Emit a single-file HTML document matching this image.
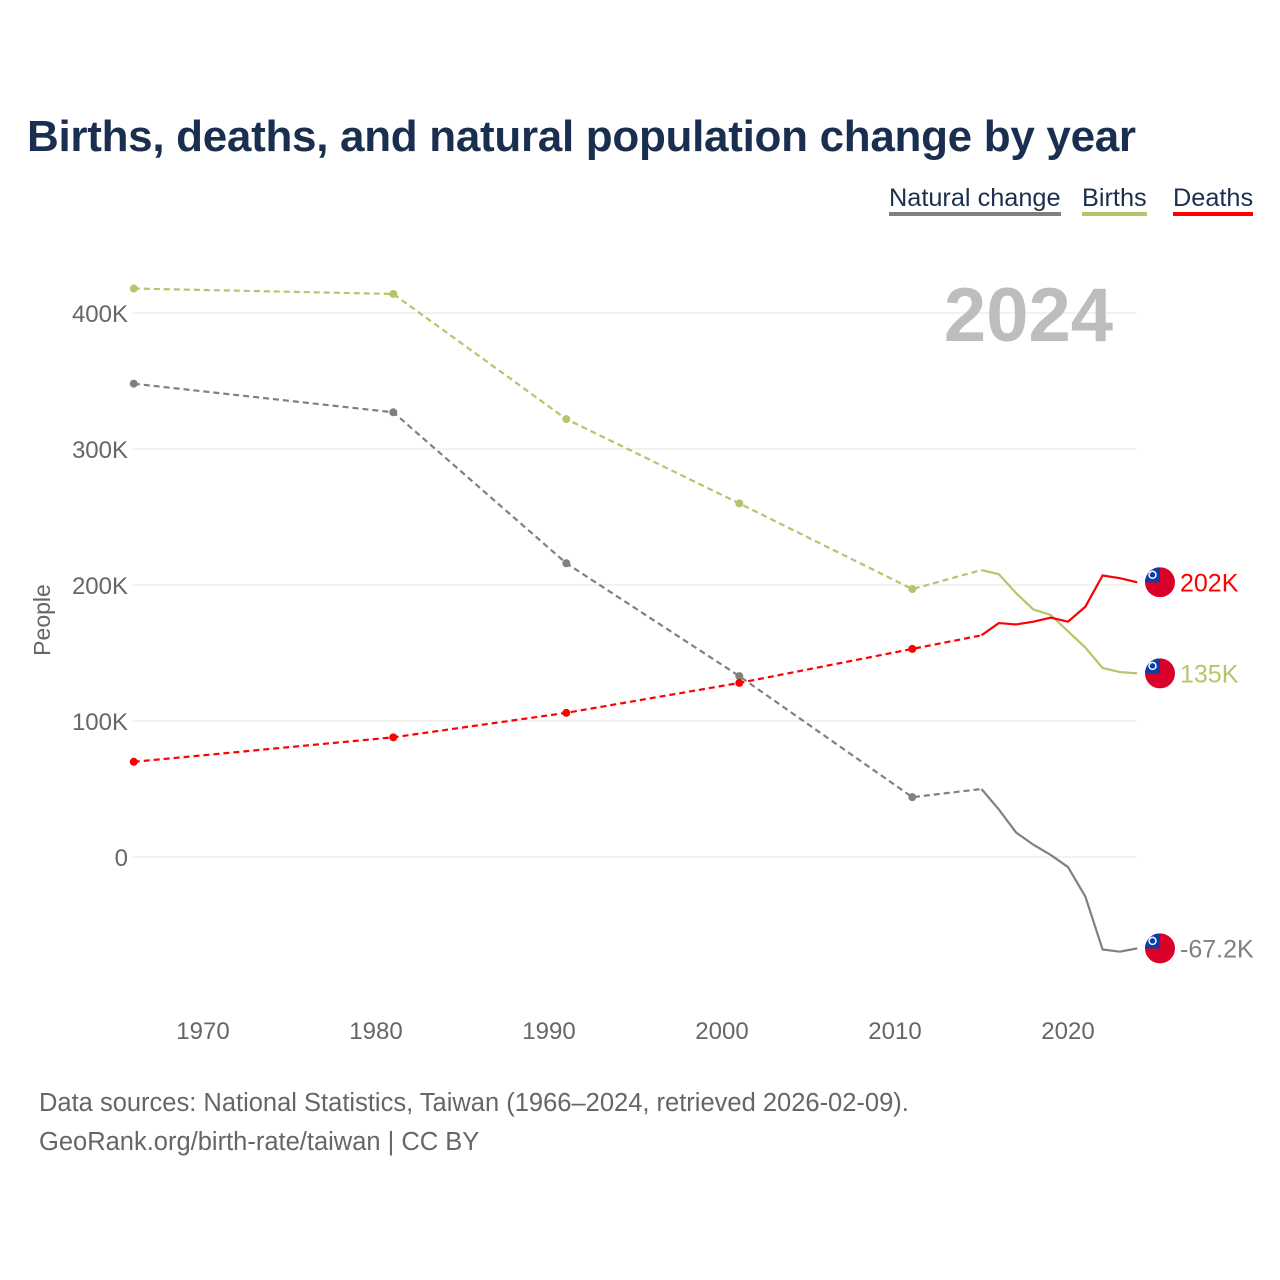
<!DOCTYPE html>
<html><head><meta charset="utf-8"><style>
body{margin:0;background:#fff;font-family:"Liberation Sans",sans-serif;}
#wrap{position:relative;width:1280px;height:1280px;}
.t{position:absolute;white-space:nowrap;}
</style></head><body>
<div id="wrap">
<div class="t" style="left:27px;top:112px;font-size:44px;font-weight:bold;color:#1a2f4f;letter-spacing:-0.3px">Births, deaths, and natural population change by year</div>
<div class="t" style="left:889px;top:184px;font-size:25.3px;color:#1a2f4f;border-bottom:4px solid #808080;line-height:28px">Natural change</div>
<div class="t" style="left:1082px;top:184px;font-size:25.3px;color:#1a2f4f;border-bottom:4px solid #b5c56b;line-height:28px">Births</div>
<div class="t" style="left:1173px;top:184px;font-size:25.3px;color:#1a2f4f;border-bottom:4px solid #ff0000;line-height:28px">Deaths</div>
<svg id="chart" width="1280" height="1280" style="position:absolute;left:0;top:0"></svg>
<div class="t" style="left:39px;top:1084px;font-size:25.5px;color:#666;line-height:39px">Data sources: National Statistics, Taiwan (1966–2024, retrieved 2026-02-09).<br>GeoRank.org/birth-rate/taiwan | CC BY</div>
</div>
<script>
const years=[1966,1981,1991,2001,2011,2015,2016,2017,2018,2019,2020,2021,2022,2023,2024];
const births=[418,414,322,260,197,211,208,194,182,178,166,154,139,136,135];
const deaths=[70,88,106,128,153,163,172,171,173,176,173,184,207,205,202];
const natural=[348,327,216,133,44,50,35,18,9,1.5,-7.4,-29,-68,-69.6,-67.2];
const yTicks=[0,100,200,300,400];
const xTicks=[1970,1980,1990,2000,2010,2020];
const endLabels=["202K","135K","-67.2K"];
const NS="http://www.w3.org/2000/svg";
const svg=document.getElementById('chart');
const X=y=>203+(y-1970)*17.3;
const Y=v=>857-v*1.36;
function mk(tag,attrs){const e=document.createElementNS(NS,tag);for(const k in attrs)e.setAttribute(k,attrs[k]);svg.appendChild(e);return e;}
yTicks.forEach(v=>{
 const g=mk('line',{x1:133,x2:1137,y1:Y(v),y2:Y(v),stroke:'#e6e6e6','stroke-width':1});
 
 
 const t=mk('text',{x:128,y:Y(v)+9,'text-anchor':'end','font-size':24,fill:'#666','font-family':'Liberation Sans'});
 t.textContent=v===0?'0':v+'K';
 
 
});
xTicks.forEach(y=>{
 const t=mk('text',{x:X(y),y:1039,'text-anchor':'middle','font-size':24,fill:'#666','font-family':'Liberation Sans'});
 t.textContent=y;
 
 
});
const yt=mk('text',{x:0,y:0,transform:'translate(50,620) rotate(-90)','text-anchor':'middle','font-size':23,fill:'#666','font-family':'Liberation Sans'});
yt.textContent='People';


const yr=mk('text',{x:1113,y:341,'text-anchor':'end','font-size':76,'font-weight':'bold',fill:'#bdbdbd','font-family':'Liberation Sans'});
yr.textContent='2024';


const series=[[natural,'#808080','natural'],[births,'#b5c56b','births'],[deaths,'#ff0000','deaths']];
const split=5;
series.forEach(([d,c,n])=>{
 const dashed=years.slice(0,split+1).map((y,i)=>X(y)+','+Y(d[i])).join(' ');
 const solid=years.slice(split).map((y,i)=>X(y)+','+Y(d[i+split])).join(' ');
 const p1=mk('polyline',{points:dashed,fill:'none',stroke:c,'stroke-width':2.2,'stroke-dasharray':'6,4'});
 
 
 const p2=mk('polyline',{points:solid,fill:'none',stroke:c,'stroke-width':2.2});
 
 
 for(let i=0;i<split;i++){
  const dot=mk('circle',{cx:X(years[i]),cy:Y(d[i]),r:4,fill:c});
  
  
 }
});
[[deaths,'#ff0000',0],[births,'#b5c56b',1],[natural,'#808080',2]].forEach(([d,c,k])=>{
 const cy=Y(d[d.length-1]),cx=1160;
 const g=document.createElementNS(NS,'g');svg.appendChild(g);
 
 
 g.innerHTML=`<clipPath id="cp${k}"><circle cx="${cx}" cy="${cy}" r="15"/></clipPath><g clip-path="url(#cp${k})"><rect x="${cx-15}" y="${cy-15}" width="30" height="30" fill="#d9002a"/><rect x="${cx-15}" y="${cy-15}" width="15" height="15" fill="#0a3ea8"/><circle cx="${cx-7.5}" cy="${cy-7.5}" r="3.5" fill="none" stroke="#fff" stroke-width="1.5"/></g>`;
 const t=mk('text',{x:1180,y:cy+9,'font-size':25,fill:c,'font-family':'Liberation Sans'});
 t.textContent=endLabels[k];
 
 
});
</script>
</body></html>
